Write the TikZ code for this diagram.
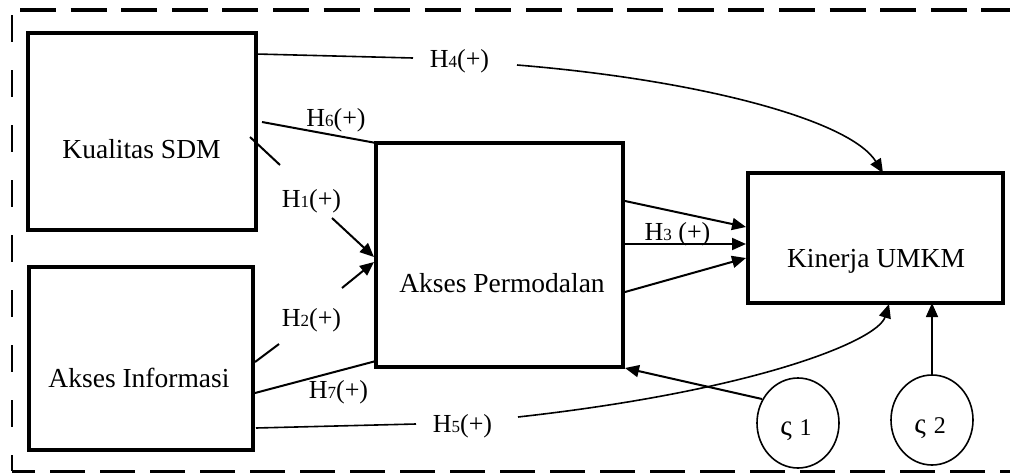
\documentclass[tikz,border=0pt]{standalone}
\usepackage{fontspec}
\setmainfont{Liberation Serif}
\usetikzlibrary{arrows.meta,calc,shapes.geometric}
\newcommand\hsub[1]{{\fontsize{17}{20}\selectfont #1}}
\begin{document}
\begin{tikzpicture}[x=1pt,y=-1pt,
  box/.style={draw,line width=4pt,inner sep=0pt,outer sep=0pt},
  txt/.style={font=\fontsize{26}{30}\selectfont,anchor=base,inner sep=0pt},
  btxt/.style={font=\fontsize{27.5}{32}\selectfont,anchor=base,inner sep=0pt},
  con/.style={line width=2pt},
  thinc/.style={line width=1.6pt},
  tip/.style={-{Triangle[length=14pt,width=12pt]}},
  circ/.style={draw,ellipse,line width=1.6pt,minimum width=82pt,minimum height=90pt,inner sep=0pt,outer sep=0pt},
  ctxt/.style={font=\fontsize{24}{28}\selectfont,anchor=base,inner sep=0pt}
]
\useasboundingbox (0,0) rectangle (1010,474);

% dashed frame
\draw[line width=4.5pt, dash pattern=on 36pt off 14.6pt] (20,10) -- (1010,10);
\draw[line width=2.5pt, dash pattern=on 27pt off 28pt] (12,15) -- (12,471);
\draw[line width=3pt, dash pattern=on 35pt off 15pt, dash phase=12pt] (12,471) -- (1010,471);

% boxes
\node[box, minimum width=228pt, minimum height=197pt] (kual) at (142,131.5) {};
\node[box, minimum width=224pt, minimum height=183pt] (info) at (141,358.5) {};
\node[box, minimum width=247pt, minimum height=224pt] (perm) at (499.5,255) {};
\node[box, minimum width=255pt, minimum height=130pt] (kin) at (875.5,238) {};

\node[btxt] (kualt) at (141.5,158) {Kualitas SDM};
\node[btxt] (infot) at (139,387) {Akses Informasi};
\node[btxt] (permt) at (502,292) {Akses Permodalan};
\node[btxt] (kint) at (876,267) {Kinerja UMKM};

% circles
\node[circ] (s1) at (798,423) {};
\node[circ] (s2) at (932,420) {};
\node[ctxt] (s1t) at (796,435) {{\fontsize{29}{30}\selectfont ς}\hspace{8pt}1};
\node[ctxt] (s2t) at (930,433) {{\fontsize{29}{30}\selectfont ς}\hspace{8pt}2};

% labels
\node[txt] (h4) at (459.5,67) {H\hsub{4}(+)};
\node[txt] (h6) at (336,126) {H\hsub{6}(+)};
\node[txt] (h1) at (311.5,207) {H\hsub{1}(+)};
\node[txt] (h2) at (311.5,326) {H\hsub{2}(+)};
\node[txt] (h7) at (338.5,398) {H\hsub{7}(+)};
\node[txt] (h5) at (462.5,432) {H\hsub{5}(+)};
\node[txt] (h3) at (677.5,240) {H\hsub{3} (+)};

% coordinates
\coordinate (k4) at ($(kual.north east)+(0,21)$);
\coordinate (h4a) at (413,58);
\coordinate (h4b) at (517,65);
\coordinate (kin4) at ($(kin.north west)+(135,0)$);

\coordinate (k6) at (262,122);
\coordinate (k1a) at (250,137);
\coordinate (k1b) at (280,165);
\coordinate (h1b) at (332,218);
\coordinate (p1) at (374,257);

\coordinate (h2a) at (342,288);
\coordinate (p2) at (374,262);
\coordinate (i2b) at (279,344);
\coordinate (i2a) at ($(info.north east)+(2,95)$);

\coordinate (i7) at ($(info.north east)+(2,126)$);
\coordinate (p7) at ($(perm.south west)+(0,-6)$);

\coordinate (i5) at ($(info.north east)+(3,161)$);
\coordinate (h5a) at (416,424);
\coordinate (h5b) at (518,417);
\coordinate (kin5) at (889,304);

\coordinate (p3a) at ($(perm.north east)+(2,58)$);
\coordinate (p3b) at ($(perm.north east)+(2,101)$);
\coordinate (p3c) at ($(perm.north east)+(2,149)$);
\coordinate (k3a) at (746,227);
\coordinate (k3b) at (746,244);
\coordinate (k3c) at (746,258);

\coordinate (s1e) at (762,399);
\coordinate (p8) at (625,368);

% connectors
\draw[thinc] (k4) -- (h4a);
\draw[thinc,tip] (h4b) .. controls (700,80) and (850,120) .. (kin4);

\draw[con] (k6) -- (perm.north west);
\draw[con] (k1a) -- (k1b);
\draw[con,tip] (h1b) -- (p1);
\draw[con,tip] (h2a) -- (p2);
\draw[con] (i2a) -- (i2b);
\draw[con] (i7) -- (p7);

\draw[thinc] (i5) -- (h5a);
\draw[thinc,tip] (h5b) .. controls (760,390) and (878,340) .. (kin5);

\draw[con,tip] (p3a) -- (k3a);
\draw[con,tip] (p3b) -- (k3b);
\draw[con,tip] (p3c) -- (k3c);

\draw[con,tip] (s1e) -- (p8);
\draw[thinc,tip] (s2.north) -- (s2.north |- kin.south);
\end{tikzpicture}
\end{document}
